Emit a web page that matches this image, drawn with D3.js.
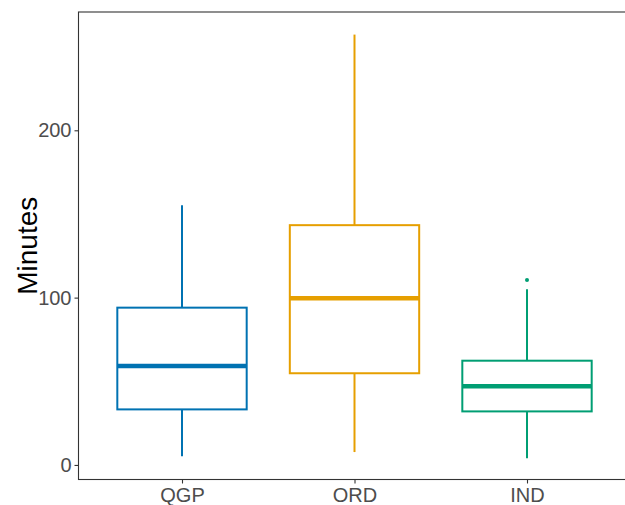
<!DOCTYPE html>
<meta charset="utf-8">
<style>
  body { margin: 0; background: #fff; }
  .axis text { font-family: "Liberation Sans", Arial, sans-serif; font-size: 20px; fill: #4d4d4d; }
  .axis line, .axis path { stroke: #333; stroke-width: 1.1; }
</style>
<body>
<svg class="chart"></svg>
<script src="https://cdn.jsdelivr.net/npm/d3@7"></script>
<script>

// Data (minutes)
var groups   = ["QGP", "ORD", "IND"];
var colors   = ["#0072B2", "#E69F00", "#009E73"];
var whiskLo  = [5.2, 7.7, 4];
var q1       = [33.2, 54.8, 32];
var medians  = [59.2, 99.6, 47];
var q3       = [94, 143.3, 62.3];
var whiskHi  = [155.2, 257.2, 105];
var outliers = [[], [], [110.5]];
var yTicks   = [0, 100, 200];

var W = 625, H = 505;
var margin = { top: 12, left: 78.5, bottom: 25.5 };
var panelRight = 630.5; // panel runs past the right edge of the image

var svg = d3.select(".chart")
    .attr("width", W)
    .attr("height", H);

var x = d3.scalePoint()
    .domain(groups)
    .range([margin.left, panelRight])
    .padding(0.6);

// ggplot style 5% expansion around the data range
var y = d3.scaleLinear()
    .domain([-8.7, 270.7])
    .range([H - margin.bottom, margin.top]);

var boxW = x.step() * 0.75;

// panel border
svg.append("rect")
    .attr("x", margin.left)
    .attr("y", margin.top)
    .attr("width", panelRight - margin.left)
    .attr("height", H - margin.bottom - margin.top)
    .attr("fill", "none")
    .attr("stroke", "#333")
    .attr("stroke-width", 1.1);

var data = groups.map(function(g, i) {
  return { g: g, c: colors[i], lo: whiskLo[i], q1: q1[i], med: medians[i],
           q3: q3[i], hi: whiskHi[i], out: outliers[i] };
});

var box = svg.selectAll("g.box")
    .data(data)
  .enter().append("g")
    .attr("class", "box");

// whiskers
box.append("line")
    .attr("x1", function(d) { return x(d.g); })
    .attr("x2", function(d) { return x(d.g); })
    .attr("y1", function(d) { return y(d.q3); })
    .attr("y2", function(d) { return y(d.hi); })
    .attr("stroke", function(d) { return d.c; })
    .attr("stroke-width", 2);
box.append("line")
    .attr("x1", function(d) { return x(d.g); })
    .attr("x2", function(d) { return x(d.g); })
    .attr("y1", function(d) { return y(d.q1); })
    .attr("y2", function(d) { return y(d.lo); })
    .attr("stroke", function(d) { return d.c; })
    .attr("stroke-width", 2);

// boxes
box.append("rect")
    .attr("x", function(d) { return x(d.g) - boxW / 2; })
    .attr("y", function(d) { return y(d.q3); })
    .attr("width", boxW)
    .attr("height", function(d) { return y(d.q1) - y(d.q3); })
    .attr("fill", "#fff")
    .attr("stroke", function(d) { return d.c; })
    .attr("stroke-width", 2);

// medians
box.append("line")
    .attr("x1", function(d) { return x(d.g) - boxW / 2; })
    .attr("x2", function(d) { return x(d.g) + boxW / 2; })
    .attr("y1", function(d) { return y(d.med); })
    .attr("y2", function(d) { return y(d.med); })
    .attr("stroke", function(d) { return d.c; })
    .attr("stroke-width", 4.5);

// outliers
box.selectAll("circle")
    .data(function(d) { return d.out.map(function(v) { return { v: v, g: d.g, c: d.c }; }); })
  .enter().append("circle")
    .attr("cx", function(d) { return x(d.g); })
    .attr("cy", function(d) { return y(d.v); })
    .attr("r", 2)
    .attr("fill", function(d) { return d.c; });

// y axis
svg.append("g")
    .attr("class", "y axis")
    .attr("transform", "translate(" + margin.left + ",0)")
    .call(d3.axisLeft(y).tickValues(yTicks).tickSize(4).tickPadding(3))
    .call(function(g) { g.select(".domain").remove(); });

// x axis
svg.append("g")
    .attr("class", "x axis")
    .attr("transform", "translate(0," + (H - margin.bottom) + ")")
    .call(d3.axisBottom(x).tickSize(4).tickPadding(4))
    .call(function(g) { g.select(".domain").remove(); });

// y label
svg.append("text")
    .attr("transform", "rotate(-90)")
    .attr("x", -(margin.top + (H - margin.bottom)) / 2)
    .attr("y", 37)
    .style("text-anchor", "middle")
    .style("font-family", "'Liberation Sans', Arial, sans-serif")
    .style("font-size", "28px")
    .style("fill", "#000")
    .text("Minutes");

</script>
</body>
